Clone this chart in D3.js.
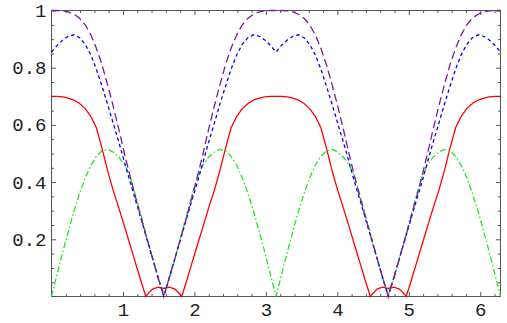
<!DOCTYPE html>
<html>
<head>
<meta charset="utf-8">
<script src="https://cdn.jsdelivr.net/npm/d3@7/dist/d3.min.js"></script>
<style>
  body { margin: 0; background: #fff; }
  .tick text { font-family: "Liberation Mono", "DejaVu Sans Mono", monospace; font-size: 19px; fill: #222; }
  .tick line { stroke: #555; }
</style>
</head>
<body>
<script>
// x samples (radians)
var xs = [
  0.000, 0.079, 0.157, 0.236, 0.314, 0.393, 0.471, 0.550, 0.628, 0.707,
  0.785, 0.864, 0.942, 1.021, 1.100, 1.178, 1.257, 1.320, 1.335, 1.414,
  1.492, 1.571, 1.649, 1.728, 1.806, 1.822, 1.885, 1.963, 2.042, 2.121,
  2.199, 2.278, 2.356, 2.435, 2.513, 2.592, 2.670, 2.749, 2.827, 2.906,
  2.985, 3.063, 3.142,
  3.220, 3.299, 3.377, 3.456, 3.534, 3.613, 3.691, 3.770, 3.848, 3.927,
  4.006, 4.084, 4.163, 4.241, 4.320, 4.398, 4.462, 4.477, 4.555, 4.634,
  4.712, 4.791, 4.869, 4.948, 4.963, 5.027, 5.105, 5.184, 5.262, 5.341,
  5.419, 5.498, 5.576, 5.655, 5.733, 5.812, 5.890, 5.969, 6.048, 6.126,
  6.205, 6.283
];

var purple = [
  1.000, 1.000, 0.999, 0.995, 0.987, 0.973, 0.950, 0.915, 0.868, 0.810,
  0.740, 0.665, 0.585, 0.500, 0.420, 0.345, 0.272, 0.216, 0.203, 0.134,
  0.067, 0.000, 0.067, 0.134, 0.203, 0.216, 0.272, 0.345, 0.420, 0.500,
  0.585, 0.665, 0.740, 0.810, 0.868, 0.915, 0.950, 0.973, 0.987, 0.995,
  0.999, 1.000, 1.000,
  1.000, 0.999, 0.995, 0.987, 0.973, 0.950, 0.915, 0.868, 0.810, 0.740,
  0.665, 0.585, 0.500, 0.420, 0.345, 0.272, 0.216, 0.203, 0.134, 0.067,
  0.000, 0.067, 0.134, 0.203, 0.216, 0.272, 0.345, 0.420, 0.500, 0.585,
  0.665, 0.740, 0.810, 0.868, 0.915, 0.950, 0.973, 0.987, 0.995, 0.999,
  1.000, 1.000
];

var blue = [
  0.855, 0.878, 0.897, 0.910, 0.915, 0.905, 0.882, 0.845, 0.795, 0.735,
  0.672, 0.605, 0.540, 0.470, 0.400, 0.335, 0.268, 0.214, 0.200, 0.134,
  0.067, 0.000, 0.067, 0.134, 0.200, 0.214, 0.268, 0.335, 0.400, 0.470,
  0.540, 0.605, 0.672, 0.735, 0.795, 0.845, 0.882, 0.905, 0.915, 0.910,
  0.897, 0.878, 0.855,
  0.878, 0.897, 0.910, 0.915, 0.905, 0.882, 0.845, 0.795, 0.735, 0.672,
  0.605, 0.540, 0.470, 0.400, 0.335, 0.268, 0.214, 0.200, 0.134, 0.067,
  0.000, 0.067, 0.134, 0.200, 0.214, 0.268, 0.335, 0.400, 0.470, 0.540,
  0.605, 0.672, 0.735, 0.795, 0.845, 0.882, 0.905, 0.915, 0.910, 0.897,
  0.878, 0.855
];

var red = [
  0.700, 0.700, 0.698, 0.694, 0.687, 0.675, 0.657, 0.630, 0.590, 0.518,
  0.440, 0.370, 0.310, 0.245, 0.180, 0.115, 0.050, 0.000, 0.006, 0.026,
  0.033, 0.028, 0.033, 0.026, 0.006, 0.000, 0.050, 0.115, 0.180, 0.245,
  0.310, 0.370, 0.440, 0.518, 0.590, 0.630, 0.657, 0.675, 0.687, 0.694,
  0.698, 0.700, 0.700,
  0.700, 0.698, 0.694, 0.687, 0.675, 0.657, 0.630, 0.590, 0.518, 0.440,
  0.370, 0.310, 0.245, 0.180, 0.115, 0.050, 0.000, 0.006, 0.026, 0.033,
  0.028, 0.033, 0.026, 0.006, 0.000, 0.050, 0.115, 0.180, 0.245, 0.310,
  0.370, 0.440, 0.518, 0.590, 0.630, 0.657, 0.675, 0.687, 0.694, 0.698,
  0.700, 0.700
];

var green = [
  0.000, 0.078, 0.155, 0.228, 0.298, 0.360, 0.415, 0.458, 0.490, 0.510,
  0.514, 0.505, 0.487, 0.462, 0.418, 0.352, 0.280, 0.222, 0.207, 0.132,
  0.060, 0.010, 0.060, 0.132, 0.207, 0.222, 0.280, 0.352, 0.418, 0.462,
  0.487, 0.505, 0.514, 0.510, 0.490, 0.458, 0.415, 0.360, 0.298, 0.228,
  0.155, 0.078, 0.000,
  0.078, 0.155, 0.228, 0.298, 0.360, 0.415, 0.458, 0.490, 0.510, 0.514,
  0.505, 0.487, 0.462, 0.418, 0.352, 0.280, 0.222, 0.207, 0.132, 0.060,
  0.010, 0.060, 0.132, 0.207, 0.222, 0.280, 0.352, 0.418, 0.462, 0.487,
  0.505, 0.514, 0.510, 0.490, 0.458, 0.415, 0.360, 0.298, 0.228, 0.155,
  0.078, 0.000
];

var xTicks = [1, 2, 3, 4, 5, 6];
var yTicks = [0.2, 0.4, 0.6, 0.8, 1];
var yTickLabels = ['0.2', '0.4', '0.6', '0.8', '1'];

var margin = { top: 10.5, right: 6.5, bottom: 26.5, left: 51.5 };
var width = 507 - margin.left - margin.right;
var height = 323 - margin.top - margin.bottom;

var svg = d3.select('body').append('svg')
  .attr('width', 507)
  .attr('height', 323);

var g = svg.append('g')
  .attr('transform', `translate(${margin.left}, ${margin.top})`);

var xScale = d3.scaleLinear().domain([0, 2 * Math.PI]).range([0, width]);
var yScale = d3.scaleLinear().domain([0, 1]).range([height, 0]);

var xMinor = d3.range(0.2, 6.21, 0.2).filter(function(d) { return Math.abs(d - Math.round(d)) > 0.01; });
var yMinor = d3.range(0.05, 1, 0.05).filter(function(d) { return Math.abs(d * 5 - Math.round(d * 5)) > 0.01; });

function strip(sel) { sel.select('.domain').remove(); }

// frame ticks (all pointing inward)
g.append('g').attr('transform', `translate(0, ${height})`)
  .call(d3.axisBottom(xScale).tickValues(xMinor).tickSize(-2.5).tickFormat('')).call(strip);
g.append('g').attr('transform', `translate(0, ${height})`)
  .call(d3.axisBottom(xScale).tickValues(xTicks).tickSize(-4.5).tickPadding(6).tickFormat(d3.format('d'))).call(strip);
g.append('g')
  .call(d3.axisTop(xScale).tickValues(xMinor).tickSize(-2.5).tickFormat('')).call(strip);
g.append('g')
  .call(d3.axisTop(xScale).tickValues(xTicks).tickSize(-4.5).tickFormat('')).call(strip);

g.append('g')
  .call(d3.axisLeft(yScale).tickValues(yMinor).tickSize(-2.5).tickFormat('')).call(strip);
g.append('g')
  .call(d3.axisLeft(yScale).tickValues(yTicks).tickSize(-4.5).tickPadding(5)
    .tickFormat(function(d, i) { return yTickLabels[i]; })).call(strip);
g.append('g').attr('transform', `translate(${width}, 0)`)
  .call(d3.axisRight(yScale).tickValues(yMinor).tickSize(-2.5).tickFormat('')).call(strip);
g.append('g').attr('transform', `translate(${width}, 0)`)
  .call(d3.axisRight(yScale).tickValues(yTicks).tickSize(-4.5).tickFormat('')).call(strip);

g.selectAll('.tick text')
  .attr('font-family', '"Liberation Mono", monospace')
  .attr('font-size', 19);

g.append('rect')
  .attr('width', width)
  .attr('height', height)
  .attr('fill', 'none')
  .attr('stroke', '#555')
  .attr('stroke-width', 1);

var series = [
  { values: red, color: '#ff0000', dash: null },
  { values: green, color: '#1ee61e', dash: '6,2.5,1.5,2.5' },
  { values: blue, color: '#0000ff', dash: '3.5,3' },
  { values: purple, color: '#80189a', dash: '8,4' }
];

series.forEach(function(s) {
  var line = d3.line()
    .x(function(d, i) { return xScale(xs[i]); })
    .y(function(d) { return yScale(d); });

  g.append('path')
    .datum(s.values)
    .attr('fill', 'none')
    .attr('stroke', s.color)
    .attr('stroke-width', 1.3)
    .attr('stroke-dasharray', s.dash)
    .attr('d', line);
});
</script>
</body>
</html>
